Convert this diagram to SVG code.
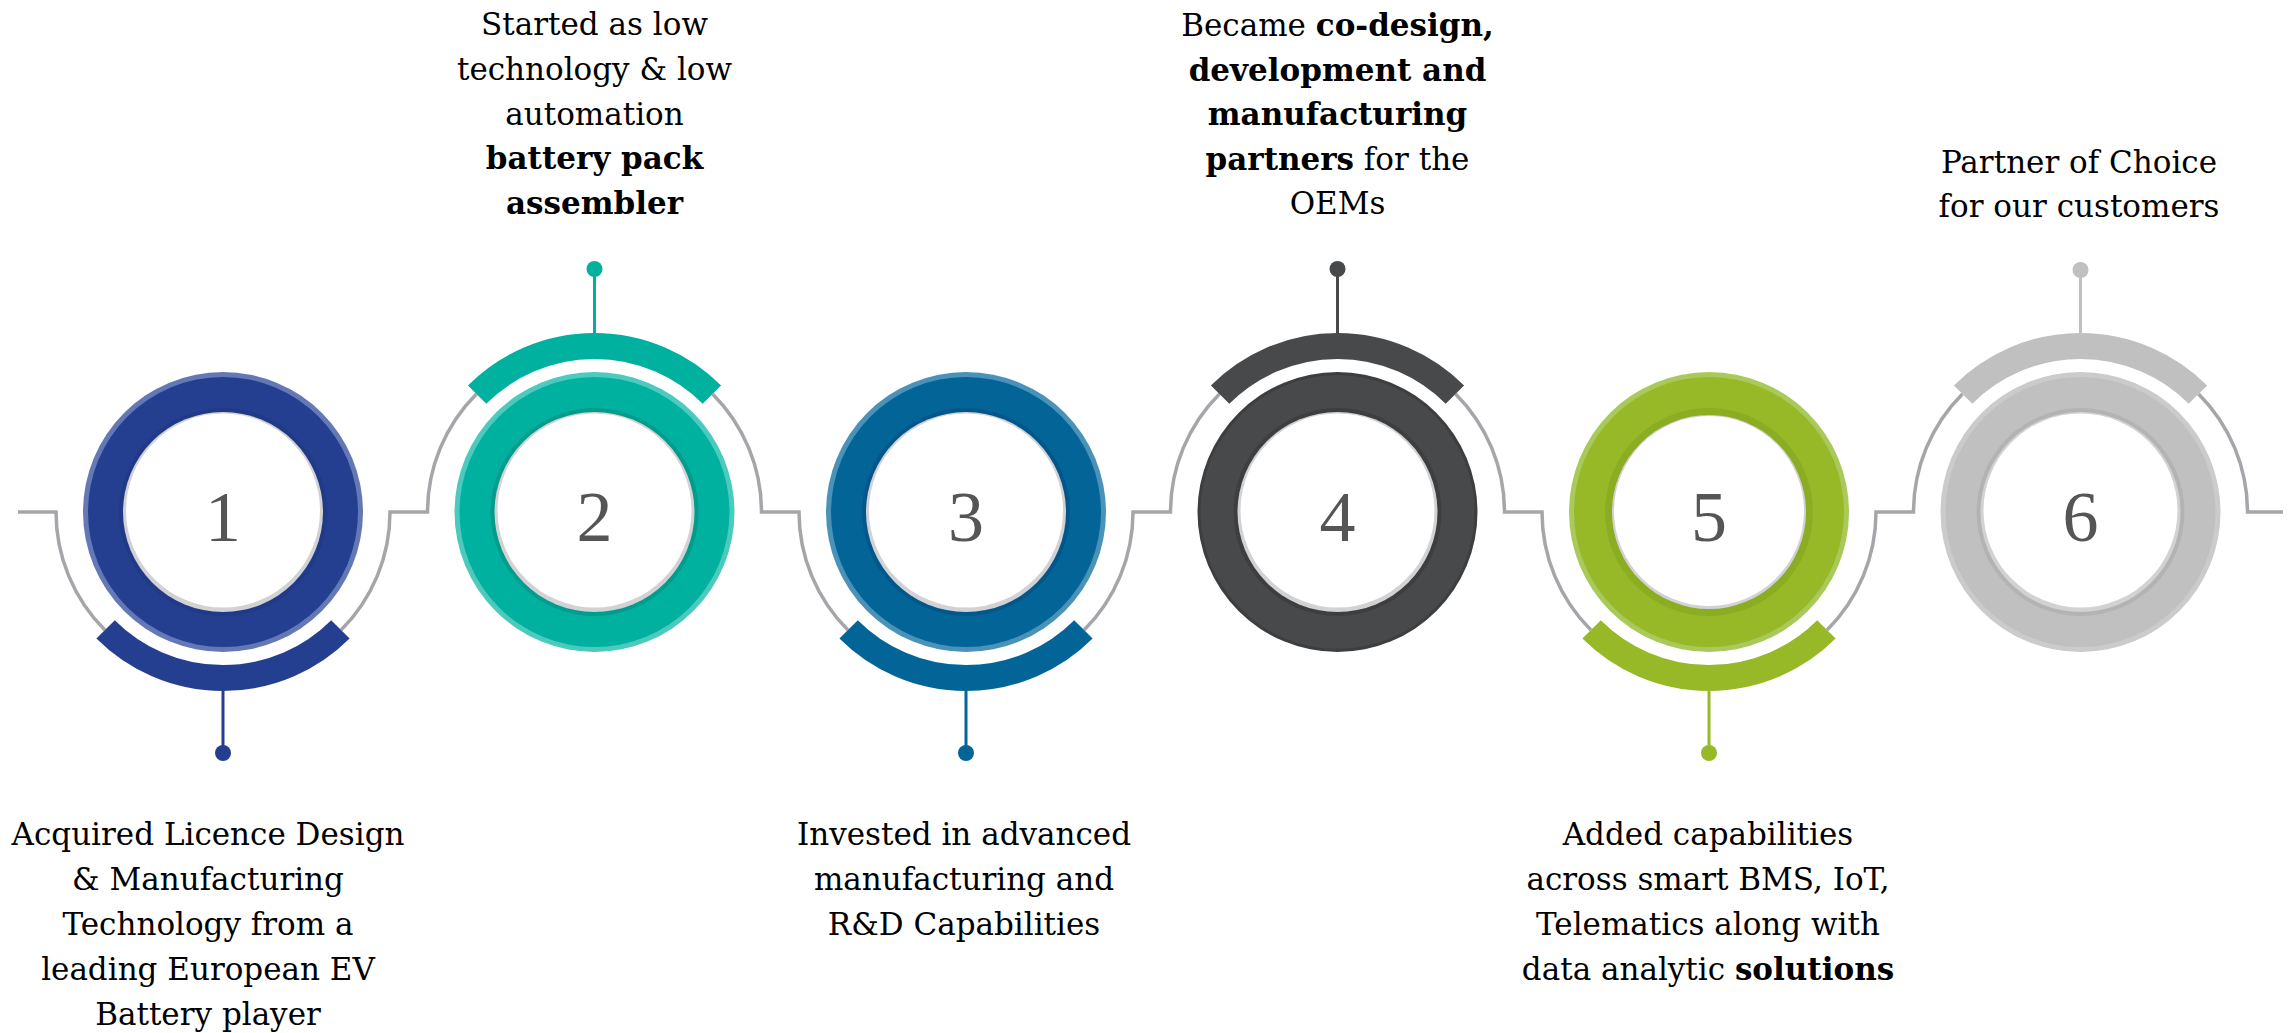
<svg xmlns="http://www.w3.org/2000/svg" width="2290" height="1033" viewBox="0 0 2290 1033">
  <defs>
    <style>
      .conn { fill: none; stroke: #a4a6a9; stroke-width: 3.5; }
      .band { fill: none; stroke-width: 26; stroke-linecap: butt; }
      .stem { stroke-width: 3; }
      .shadow { fill: #d2d2d4; }
      .face { fill: #ffffff; }
      .num { font-family: "Liberation Serif", "DejaVu Serif", serif; font-size: 72px; fill: #555555; text-anchor: middle; }
      .lbl { font-family: "DejaVu Serif", "Liberation Serif", serif; font-size: 31px; fill: #000000; text-anchor: middle; }
      .b { font-weight: bold; }
    </style>
  </defs>
  <rect width="2290" height="1033" fill="#ffffff"/>

  <!-- thin grey timeline running behind the badges -->
  <g id="connectors">
    <path class="conn" d="M18 512 H56 A167 167 0 0 0 104.9 630.1"/>
    <path class="conn" d="M341.1 630.1 A167 167 0 0 0 390 512 H427.5 A167 167 0 0 1 476.4 393.9"/>
    <path class="conn" d="M712.6 393.9 A167 167 0 0 1 761.5 512 H799 A167 167 0 0 0 847.9 630.1"/>
    <path class="conn" d="M1084.1 630.1 A167 167 0 0 0 1133 512 H1170.5 A167 167 0 0 1 1219.4 393.9"/>
    <path class="conn" d="M1455.6 393.9 A167 167 0 0 1 1504.5 512 H1542 A167 167 0 0 0 1590.9 630.1"/>
    <path class="conn" d="M1827.1 630.1 A167 167 0 0 0 1876 512 H1913.5 A167 167 0 0 1 1962.4 393.9"/>
    <path class="conn" d="M2198.6 393.9 A167 167 0 0 1 2247.5 512 H2283"/>
  </g>

  <!-- step 1 -->
  <g id="step1">
    <circle cx="223" cy="512" r="140" fill="#6478b5"/>
    <circle cx="223" cy="512" r="135" fill="#243f8f"/>
    <circle cx="223" cy="512" r="104" fill="#213a88"/>
    <circle class="shadow" cx="223" cy="512" r="100"/>
    <circle class="face" cx="223" cy="510.5" r="97"/>
    <text class="num" x="223" y="541">1</text>
    <path class="band" stroke="#243f8f" d="M105.6 629.4 A166 166 0 0 0 340.4 629.4"/>
    <line class="stem" stroke="#243f8f" x1="223" y1="690" x2="223" y2="753"/>
    <circle cx="223" cy="753" r="8" fill="#243f8f"/>
    <text class="lbl" x="208" y="845">Acquired Licence Design</text>
    <text class="lbl" x="208" y="890">&amp; Manufacturing</text>
    <text class="lbl" x="208" y="935">Technology from a</text>
    <text class="lbl" x="208" y="980">leading European EV</text>
    <text class="lbl" x="208" y="1025">Battery player</text>
  </g>

  <!-- step 2 -->
  <g id="step2">
    <circle cx="594.5" cy="512" r="140" fill="#4ccabd"/>
    <circle cx="594.5" cy="512" r="135" fill="#00b1a0"/>
    <circle cx="594.5" cy="512" r="104" fill="#009c8c"/>
    <circle class="shadow" cx="594.5" cy="512" r="100"/>
    <circle class="face" cx="594.5" cy="510.5" r="97"/>
    <text class="num" x="594.5" y="541">2</text>
    <path class="band" stroke="#00b1a0" d="M477.1 394.6 A166 166 0 0 1 711.9 394.6"/>
    <line class="stem" stroke="#00b1a0" x1="594.5" y1="334" x2="594.5" y2="269"/>
    <circle cx="594.5" cy="269" r="8" fill="#00b1a0"/>
    <text class="lbl" x="594.5" y="35">Started as low</text>
    <text class="lbl" x="594.5" y="80">technology &amp; low</text>
    <text class="lbl" x="594.5" y="124.5">automation</text>
    <text class="lbl b" x="594.5" y="169">battery pack</text>
    <text class="lbl b" x="594.5" y="213.5">assembler</text>
  </g>

  <!-- step 3 -->
  <g id="step3">
    <circle cx="966" cy="512" r="140" fill="#4b92b8"/>
    <circle cx="966" cy="512" r="135" fill="#036597"/>
    <circle cx="966" cy="512" r="104" fill="#02578a"/>
    <circle class="shadow" cx="966" cy="512" r="100"/>
    <circle class="face" cx="966" cy="510.5" r="97"/>
    <text class="num" x="966" y="541">3</text>
    <path class="band" stroke="#036597" d="M848.6 629.4 A166 166 0 0 0 1083.4 629.4"/>
    <line class="stem" stroke="#036597" x1="966" y1="690" x2="966" y2="753"/>
    <circle cx="966" cy="753" r="8" fill="#036597"/>
    <text class="lbl" x="964" y="845">Invested in advanced</text>
    <text class="lbl" x="964" y="890">manufacturing and</text>
    <text class="lbl" x="964" y="935">R&amp;D Capabilities</text>
  </g>

  <!-- step 4 -->
  <g id="step4">
    <circle cx="1337.5" cy="512" r="140" fill="#3d3e40"/>
    <circle cx="1337.5" cy="512" r="137" fill="#48494b"/>
    <circle cx="1337.5" cy="512" r="104" fill="#3d3e40"/>
    <circle class="shadow" cx="1337.5" cy="512" r="100"/>
    <circle class="face" cx="1337.5" cy="510.5" r="97"/>
    <text class="num" x="1337.5" y="541">4</text>
    <path class="band" stroke="#48494b" d="M1220.1 394.6 A166 166 0 0 1 1454.9 394.6"/>
    <line class="stem" stroke="#48494b" x1="1337.5" y1="334" x2="1337.5" y2="269"/>
    <circle cx="1337.5" cy="269" r="8" fill="#48494b"/>
    <text class="lbl" x="1337.5" y="36">Became <tspan class="b">co-design,</tspan></text>
    <text class="lbl b" x="1337.5" y="80.5">development and</text>
    <text class="lbl b" x="1337.5" y="125">manufacturing</text>
    <text class="lbl" x="1337.5" y="169.5"><tspan class="b">partners</tspan> for the</text>
    <text class="lbl" x="1337.5" y="214">OEMs</text>
  </g>

  <!-- step 5 -->
  <g id="step5">
    <circle cx="1709" cy="512" r="140" fill="#a9c95a"/>
    <circle cx="1709" cy="512" r="135" fill="#97b827"/>
    <circle cx="1709" cy="512" r="104" fill="#8aad22"/>
    <circle class="shadow" cx="1709" cy="512" r="97" fill="#8aad22"/>
    <circle class="face" cx="1709" cy="511" r="95"/>
    <text class="num" x="1709" y="541">5</text>
    <path class="band" stroke="#97b827" d="M1591.6 629.4 A166 166 0 0 0 1826.4 629.4"/>
    <line class="stem" stroke="#97b827" x1="1709" y1="690" x2="1709" y2="753"/>
    <circle cx="1709" cy="753" r="8" fill="#97b827"/>
    <text class="lbl" x="1708" y="845">Added capabilities</text>
    <text class="lbl" x="1708" y="890">across smart BMS, IoT,</text>
    <text class="lbl" x="1708" y="935">Telematics along with</text>
    <text class="lbl" x="1708" y="980">data analytic <tspan class="b">solutions</tspan></text>
  </g>

  <!-- step 6 -->
  <g id="step6">
    <circle cx="2080.5" cy="512" r="140" fill="#cbcbcb"/>
    <circle cx="2080.5" cy="512" r="135" fill="#c0c0c0"/>
    <circle cx="2080.5" cy="512" r="104" fill="#b3b3b3"/>
    <circle class="shadow" cx="2080.5" cy="512" r="100" fill="#e4e4e4"/>
    <circle class="face" cx="2080.5" cy="510.5" r="97"/>
    <text class="num" x="2080.5" y="541">6</text>
    <path class="band" stroke="#c0c0c0" d="M1963.1 394.6 A166 166 0 0 1 2197.9 394.6"/>
    <line class="stem" stroke="#c0c0c0" x1="2080.5" y1="334" x2="2080.5" y2="270"/>
    <circle cx="2080.5" cy="270" r="8" fill="#c0c0c0"/>
    <text class="lbl" x="2079" y="173">Partner of Choice</text>
    <text class="lbl" x="2079" y="217">for our customers</text>
  </g>
</svg>
